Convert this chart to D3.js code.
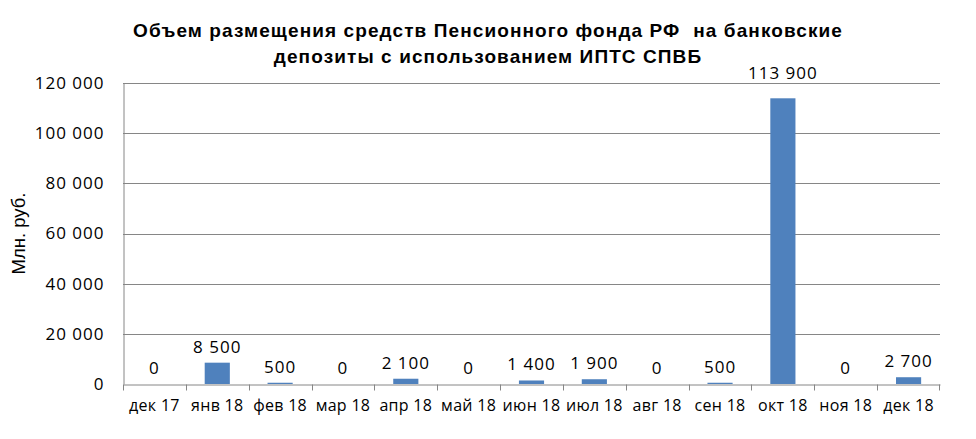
<!DOCTYPE html>
<html>
<head>
<meta charset="utf-8">
<script src="https://cdn.jsdelivr.net/npm/d3@7"></script>
<style>
  body { margin: 0; background: #fff; }
  .grid line { stroke: #868686; stroke-width: 1; }
  .axis path, .axis line { stroke: #868686; }
  text { fill: #000; }
</style>
</head>
<body>
<svg class="chart" width="976" height="439"></svg>
<script>
const months = ['дек 17', 'янв 18', 'фев 18', 'мар 18', 'апр 18', 'май 18', 'июн 18',
    'июл 18', 'авг 18', 'сен 18', 'окт 18', 'ноя 18', 'дек 18'];
const volumes = [0, 8500, 500, 0, 2100, 0, 1400, 1900, 0, 500, 113900, 0, 2700];
const yTicks = [0, 20000, 40000, 60000, 80000, 100000, 120000];
const titleLines = ['Объем размещения средств Пенсионного фонда РФ  на банковские',
    'депозиты с использованием ИПТС СПВБ'];
const yTitle = 'Млн. руб.';

const fmt = v => d3.format(',')(v).replace(/,/g, '\u00a0');

var margin = { top: 83, right: 36, bottom: 55, left: 123 };
var svg = d3.select('.chart');
var width = svg.attr('width') - margin.left - margin.right;
var height = svg.attr('height') - margin.top - margin.bottom;

var x = d3.scaleBand()
    .domain(months)
    .range([0, width])
    .padding(0);

var y = d3.scaleLinear()
    .domain([0, 120000])
    .range([height, 0]);

var barW = x.bandwidth() * 0.4;

// title
svg.append('g')
    .selectAll('text')
    .data(titleLines)
    .enter().append('text')
    .attr('x', 488)
    .attr('y', (d, i) => 37 + i * 26)
    .attr('text-anchor', 'middle')
    .style('white-space', 'pre')
    .style('font-family', '"Liberation Sans", Arial, sans-serif')
    .style('font-weight', 'bold')
    .style('font-size', '19px')
    .style('letter-spacing', '1.1px')
    .text(d => d);

var g = svg.append('g')
    .attr('transform', 'translate(' + margin.left + ',' + margin.top + ')');

// horizontal gridlines
g.append('g')
    .attr('class', 'grid')
    .selectAll('line')
    .data(yTicks.filter(d => d > 0))
    .enter().append('line')
    .attr('x1', 0)
    .attr('x2', width)
    .attr('y1', d => Math.round(y(d)) + 0.5)
    .attr('y2', d => Math.round(y(d)) + 0.5);

// y axis
var yAxis = g.append('g')
    .attr('class', 'axis')
    .attr('transform', 'translate(0.5,0)')
    .call(d3.axisLeft(y).tickValues(yTicks).tickSize(0).tickPadding(19).tickFormat(fmt));
yAxis.selectAll('text')
    .style('font-family', '"Open Sans", sans-serif')
    .style('font-size', '17px')
    .style('letter-spacing', '1px');

// x axis with ticks on category boundaries
var xAxis = g.append('g')
    .attr('class', 'axis')
    .attr('transform', 'translate(0,' + (Math.round(height) + 0.5) + ')')
    .call(d3.axisBottom(x).tickSize(0).tickPadding(15));
xAxis.selectAll('text')
    .style('font-family', '"Open Sans", sans-serif')
    .style('font-size', '16px')
    .style('letter-spacing', '0.3px');
xAxis.append('g')
    .selectAll('line')
    .data(months)
    .enter().append('line')
    .attr('x1', d => Math.round(x(d)) + 0.5)
    .attr('x2', d => Math.round(x(d)) + 0.5)
    .attr('y1', 0)
    .attr('y2', 6)
    .attr('stroke', '#868686');
xAxis.append('line')
    .attr('x1', width - 0.5)
    .attr('x2', width - 0.5)
    .attr('y1', 0)
    .attr('y2', 6)
    .attr('stroke', '#868686');

// y axis title
svg.append('text')
    .attr('transform', 'translate(25,' + (margin.top + height / 2) + ') rotate(-90)')
    .attr('text-anchor', 'middle')
    .style('font-family', '"Liberation Sans", Arial, sans-serif')
    .style('font-size', '18.5px')
    .text(yTitle);

// bars
g.selectAll('.bar')
    .data(volumes)
    .enter().append('rect')
    .attr('class', 'bar')
    .attr('x', (d, i) => x(months[i]) + (x.bandwidth() - barW) / 2)
    .attr('y', d => y(d))
    .attr('width', barW)
    .attr('height', d => height - y(d))
    .attr('fill', '#4F81BD');

// value labels (a label that would hit the top gridline goes above the plot)
g.selectAll('.label')
    .data(volumes)
    .enter().append('text')
    .attr('class', 'label')
    .attr('x', (d, i) => x(months[i]) + x.bandwidth() / 2)
    .attr('y', d => (y(d) - 10 < 12 ? -4 : y(d) - 10))
    .attr('text-anchor', 'middle')
    .style('font-family', '"Open Sans", sans-serif')
    .style('font-size', '17px')
    .style('letter-spacing', '1px')
    .text(fmt);
</script>
</body>
</html>
